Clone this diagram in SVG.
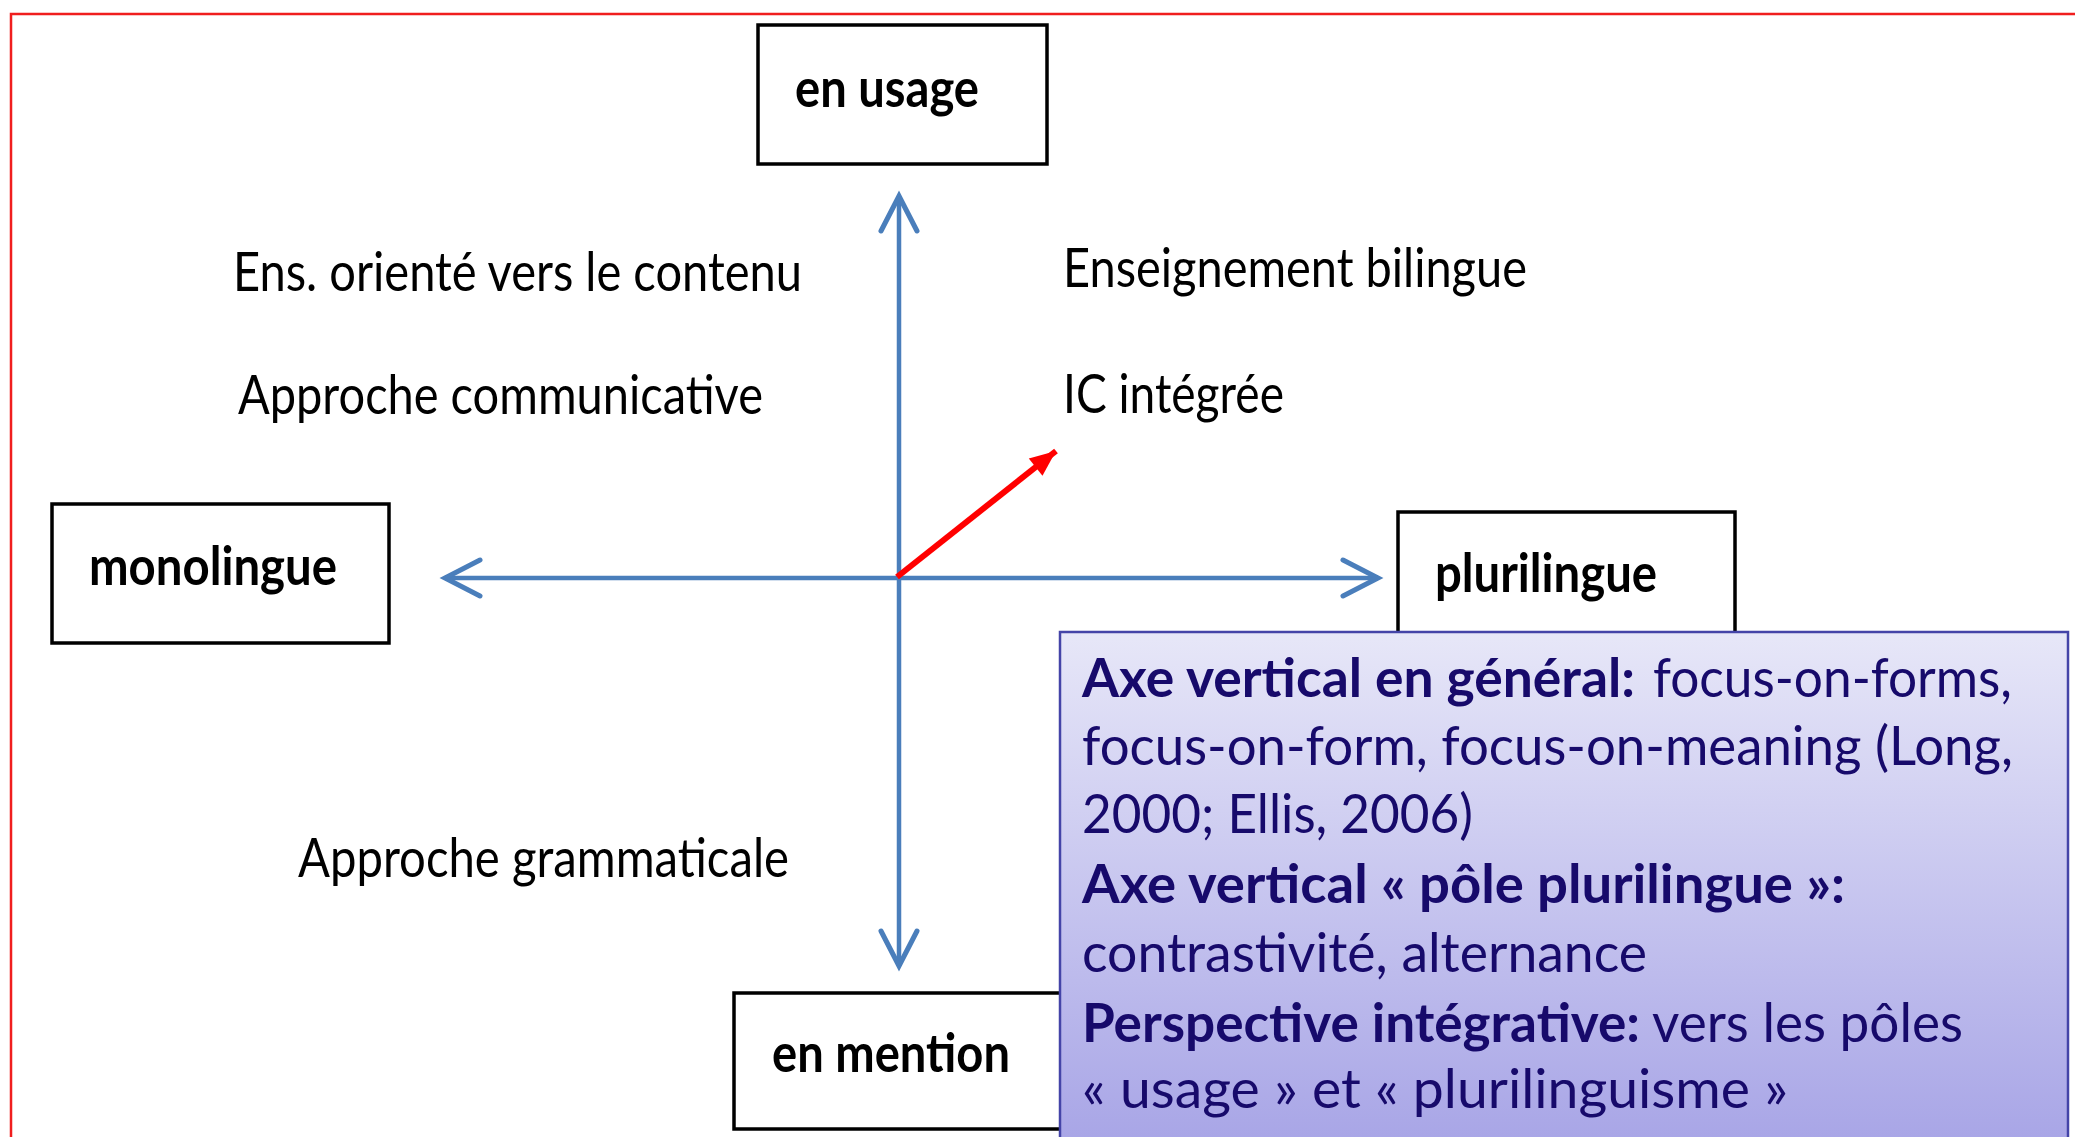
<svg xmlns="http://www.w3.org/2000/svg" width="2075" height="1137" viewBox="0 0 2075 1137">
<style>
.lbl{font-family:Lato,"Open Sans",sans-serif;font-size:54px;fill:#000}
.bold{font-weight:bold}
.box{fill:#fff;stroke:#000;stroke-width:3.5}
.axis{stroke:#4a7ebb;stroke-width:4.5;fill:none}
.note{font-family:Lato,"Open Sans",sans-serif;font-size:54px;fill:#170a6b}
</style>
<defs>
<marker id="open" markerUnits="userSpaceOnUse" markerWidth="60" markerHeight="60" viewBox="-45 -30 60 60" refX="0" refY="0" orient="auto-start-reverse">
<path d="M-35,-18 L0,0 L-35,18" fill="none" stroke="#4a7ebb" stroke-width="5" stroke-linecap="round" stroke-linejoin="miter"/>
</marker>
<marker id="solid" markerUnits="userSpaceOnUse" markerWidth="40" markerHeight="40" viewBox="-30 -20 40 40" refX="0" refY="0" orient="auto">
<path d="M-26,-11 L0,0 L-26,11 Z" fill="#ff0000"/>
</marker>
<linearGradient id="grad" x1="0" y1="0" x2="0" y2="1">
<stop offset="0" stop-color="#e7e7f8"/>
<stop offset="1" stop-color="#a7a4e6"/>
</linearGradient>
</defs>
<rect width="2075" height="1137" fill="#fff"/>
<g id="frame">
<path d="M11,1137 L11,14 L2075,14" fill="none" stroke="#f01e1e" stroke-width="2.5"/>
</g>
<g id="connectors">
<line class="axis" x1="899" y1="196" x2="899" y2="966" marker-start="url(#open)" marker-end="url(#open)"/>
<line class="axis" x1="445" y1="578" x2="1378" y2="578" marker-start="url(#open)" marker-end="url(#open)"/>
<line x1="897" y1="577" x2="1056" y2="451" stroke="#ff0000" stroke-width="6" marker-end="url(#solid)"/>
</g>
<g id="labels">
<text class="lbl" x="233" y="291" textLength="569" lengthAdjust="spacingAndGlyphs">Ens. orienté vers le contenu</text>
<text class="lbl" x="238" y="414" textLength="525" lengthAdjust="spacingAndGlyphs">Approche communicative</text>
<text class="lbl" x="298" y="877" textLength="491" lengthAdjust="spacingAndGlyphs">Approche grammaticale</text>
<text class="lbl" x="1063" y="287" textLength="464" lengthAdjust="spacingAndGlyphs">Enseignement bilingue</text>
<text class="lbl" x="1063" y="413" textLength="221" lengthAdjust="spacingAndGlyphs">IC intégrée</text>
</g>
<g id="node-en-usage">
<rect class="box" x="758" y="25" width="289" height="139"/>
<text class="lbl bold" x="795" y="107" textLength="184" lengthAdjust="spacingAndGlyphs">en usage</text>
</g>
<g id="node-monolingue">
<rect class="box" x="52" y="504" width="337" height="139"/>
<text class="lbl bold" x="89" y="585" textLength="248" lengthAdjust="spacingAndGlyphs">monolingue</text>
</g>
<g id="node-plurilingue">
<rect class="box" x="1398" y="512" width="337" height="139"/>
<text class="lbl bold" x="1435" y="592" textLength="222" lengthAdjust="spacingAndGlyphs">plurilingue</text>
</g>
<g id="node-en-mention">
<rect class="box" x="734" y="993" width="337" height="136"/>
<text class="lbl bold" x="772" y="1072" textLength="238" lengthAdjust="spacingAndGlyphs">en mention</text>
</g>
<g id="node-note">
<rect x="1060" y="632" width="1008" height="520" fill="url(#grad)" stroke="#4444a8" stroke-width="2.5"/>
<text class="note bold" x="1082" y="697" textLength="553" lengthAdjust="spacingAndGlyphs">Axe vertical en général:</text>
<text class="note" x="1653" y="697" textLength="359" lengthAdjust="spacingAndGlyphs">focus-on-forms,</text>
<text class="note" x="1082" y="765" textLength="931" lengthAdjust="spacingAndGlyphs">focus-on-form, focus-on-meaning (Long,</text>
<text class="note" x="1082" y="833" textLength="391" lengthAdjust="spacingAndGlyphs">2000; Ellis, 2006)</text>
<text class="note bold" x="1082" y="903" textLength="763" lengthAdjust="spacingAndGlyphs">Axe vertical « pôle plurilingue »:</text>
<text class="note" x="1082" y="972" textLength="565" lengthAdjust="spacingAndGlyphs">contrastivité, alternance</text>
<text class="note bold" x="1082" y="1042" textLength="558" lengthAdjust="spacingAndGlyphs">Perspective intégrative:</text>
<text class="note" x="1652" y="1042" textLength="311" lengthAdjust="spacingAndGlyphs">vers les pôles</text>
<text class="note" x="1082" y="1108" textLength="706" lengthAdjust="spacingAndGlyphs">« usage » et « plurilinguisme »</text>
</g>
</svg>
